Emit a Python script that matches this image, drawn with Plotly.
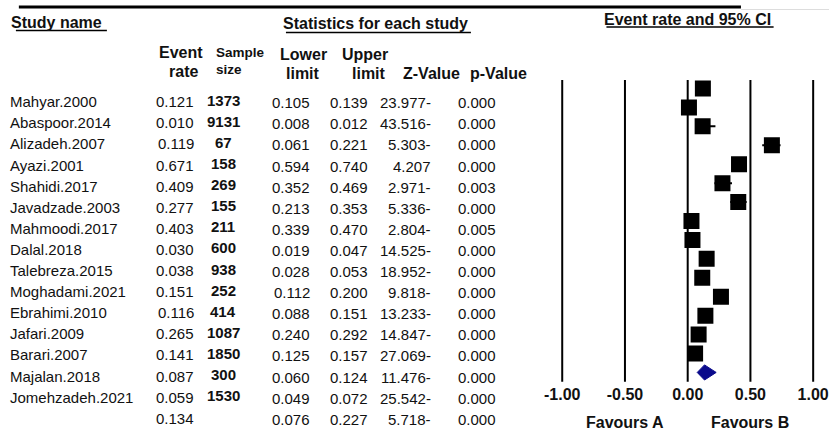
import plotly.graph_objects as go

# ---------------- data ----------------
studies = ["Mahyar.2000", "Abaspoor.2014", "Alizadeh.2007", "Ayazi.2001", "Shahidi.2017",
           "Javadzade.2003", "Mahmoodi.2017", "Dalal.2018", "Talebreza.2015", "Moghadami.2021",
           "Ebrahimi.2010", "Jafari.2009", "Barari.2007", "Majalan.2018", "Jomehzadeh.2021"]
event_rate = [0.121, 0.010, 0.119, 0.671, 0.409, 0.277, 0.403, 0.030, 0.038, 0.151,
              0.116, 0.265, 0.141, 0.087, 0.059]
sample_size = [1373, 9131, 67, 158, 269, 155, 211, 600, 938, 252, 414, 1087, 1850, 300, 1530]
lower_limit = [0.105, 0.008, 0.061, 0.594, 0.352, 0.213, 0.339, 0.019, 0.028, 0.112,
               0.088, 0.240, 0.125, 0.060, 0.049]
upper_limit = [0.139, 0.012, 0.221, 0.740, 0.469, 0.353, 0.470, 0.047, 0.053, 0.200,
               0.151, 0.292, 0.157, 0.124, 0.072]
z_value = [-23.977, -43.516, -5.303, 4.207, -2.971, -5.336, -2.804, -14.525, -18.952, -9.818,
           -13.233, -14.847, -27.069, -11.476, -25.542]
p_value = [0.000, 0.000, 0.000, 0.000, 0.003, 0.000, 0.005, 0.000, 0.000, 0.000,
           0.000, 0.000, 0.000, 0.000, 0.000]
pooled_rate = 0.134
pooled_lower = 0.076
pooled_upper = 0.227
pooled_z = -5.718
pooled_p = 0.000
axis_ticks = [-1.0, -0.5, 0.0, 0.5, 1.0]
tick_labels = ["-1.00", "-0.50", "0.00", "0.50", "1.00"]
favours_labels = ["Favours A", "Favours B"]

# ---------------- geometry ----------------
W, H = 832, 434
FONT = "Liberation Sans, Arial, sans-serif"
LEFT_FIX = 7  # left-anchored annotation offset compensation
CENTER_FIX = 2.5

def px(x):
    return x / W

def py(y):
    return 1 - y / H

# table rows (axis y) and plot rows (axis y2)
ROW0, ROWH = 101.7, 21.1
P0, PH = 88.5, 18.93
n = len(studies)
pool_row = n

def fmt_z(z):
    return f"{abs(z):.3f}" + ("-" if z < 0 else "")

fig = go.Figure()

# CI whiskers + squares
fig.add_trace(go.Scatter(
    x=event_rate, y=list(range(n)), xaxis="x", yaxis="y2", mode="markers",
    marker=dict(symbol="square", size=16, color="black", line=dict(width=0)),
    error_x=dict(type="data", symmetric=False,
                 array=[u - e for u, e in zip(upper_limit, event_rate)],
                 arrayminus=[e - l for e, l in zip(event_rate, lower_limit)],
                 color="black", thickness=2, width=0),
    hoverinfo="skip", showlegend=False))

# pooled diamond
dh = 0.4
fig.add_trace(go.Scatter(
    x=[pooled_lower, pooled_rate, pooled_upper, pooled_rate, pooled_lower],
    y=[pool_row, pool_row - dh, pool_row, pool_row + dh, pool_row],
    xaxis="x", yaxis="y2", mode="lines", fill="toself",
    fillcolor="#0a0a8c", line=dict(color="#0a0a8c", width=1),
    hoverinfo="skip", showlegend=False))

shapes = []
# vertical reference lines
for t in axis_ticks:
    shapes.append(dict(type="line", xref="x", yref="y2", x0=t, x1=t, y0=-0.45, y1=15.49,
                       line=dict(color="black", width=2)))
# top rule lines
shapes.append(dict(type="line", xref="paper", yref="paper", x0=px(13), x1=px(743),
                   y0=py(7), y1=py(7), line=dict(color="black", width=3)))
shapes.append(dict(type="line", xref="paper", yref="paper", x0=px(743), x1=px(832),
                   y0=py(9.5), y1=py(9.5), line=dict(color="#dddddd", width=1)))
# header underlines
for x0, x1, y in [(10, 102, 30.5), (283, 470, 32.5), (607, 776, 27)]:
    shapes.append(dict(type="line", xref="paper", yref="paper", x0=px(x0), x1=px(x1),
                       y0=py(y), y1=py(y), line=dict(color="black", width=1.5)))

ann = []

def text(x, y, s, size=15, bold=False, xanchor="left", yref="paper", color="#111111"):
    if xanchor == "left":
        x = x - LEFT_FIX
    elif xanchor == "center":
        x = x - CENTER_FIX
    ann.append(dict(x=px(x), y=(py(y) if yref == "paper" else y), xref="paper", yref=yref,
                    text=s, showarrow=False, xanchor=xanchor, yanchor="middle",
                    font=dict(family=FONT, size=size, color=color,
                              weight=("bold" if bold else "normal"))))

# headers
text(10, 22.7, "Study name", 16, True)
text(376.5, 24, "Statistics for each study", 16, True, "center")
text(691.5, 19.3, "Event rate and 95% CI", 16, True, "center")
text(179.5, 53, "Event", 16, True, "center")
text(181.7, 71, "rate", 16, True, "center")
text(217, 53, "Sample", 13.5, True, "left")
text(217, 69, "size", 13.5, True, "left")
text(303, 55, "Lower", 16, True, "center")
text(303, 73, "limit", 16, True, "center")
text(365, 55, "Upper", 16, True, "center")
text(369, 73, "limit", 16, True, "center")
text(433, 73, "Z-Value", 16, True, "center")
text(500, 73, "p-Value", 16, True, "center")

# table body
for i in range(n):
    text(9, i, studies[i], 15, False, "left", "y")
    text(192, i, f"{event_rate[i]:.3f}", 15, False, "right", "y")
    text(222, i - 0.07, f"{sample_size[i]}", 15, True, "center", "y")
    text(309, i + 0.05, f"{lower_limit[i]:.3f}", 15, False, "right", "y")
    text(368, i + 0.05, f"{upper_limit[i]:.3f}", 15, False, "right", "y")
    text(432, i + 0.05, fmt_z(z_value[i]), 15, False, "right", "y")
    text(497, i + 0.05, f"{p_value[i]:.3f}", 15, False, "right", "y")
text(192, pool_row, f"{pooled_rate:.3f}", 15, False, "right", "y")
text(309, pool_row + 0.05, f"{pooled_lower:.3f}", 15, False, "right", "y")
text(368, pool_row + 0.05, f"{pooled_upper:.3f}", 15, False, "right", "y")
text(432, pool_row + 0.05, fmt_z(pooled_z), 15, False, "right", "y")
text(497, pool_row + 0.05, f"{pooled_p:.3f}", 15, False, "right", "y")

# favours labels
for xv, lab in zip([-0.5, 0.5], favours_labels):
    ann.append(dict(x=xv, y=py(422.7), xref="x", yref="paper", text=lab, showarrow=False,
                    xanchor="center", yanchor="middle",
                    font=dict(family=FONT, size=16, color="#111111", weight="bold")))

# axis mapping
xr = (-1.1, 1.1)
ppu = (816 - 562.3) / 2
zero_px = 562.3 + ppu
dom_l = zero_px + xr[0] * ppu
dom_r = zero_px + xr[1] * ppu

fig.update_layout(
    width=W, height=H, margin=dict(l=0, r=0, t=0, b=0),
    paper_bgcolor="white", plot_bgcolor="rgba(0,0,0,0)",
    xaxis=dict(domain=[px(dom_l), px(dom_r)], range=list(xr), anchor="free", position=py(383),
               tickmode="array", tickvals=axis_ticks, ticktext=tick_labels,
               showgrid=False, zeroline=False, showline=False, ticks="",
               tickfont=dict(family=FONT, size=16, color="#111111", weight="bold")),
    yaxis=dict(domain=[0, 1], range=[(H - ROW0) / ROWH, -ROW0 / ROWH], visible=False),
    yaxis2=dict(domain=[0, 1], range=[(H - P0) / PH, -P0 / PH], overlaying="y",
                visible=False),
    shapes=shapes, annotations=ann, showlegend=False,
)

fig.write_html("out.html", config={"displayModeBar": False},
               post_script="document.body.style.margin='0px';")
